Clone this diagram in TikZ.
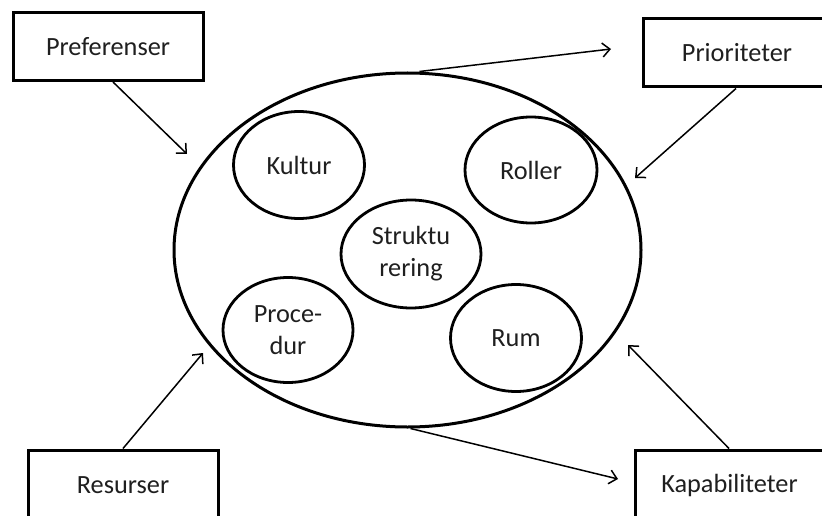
\documentclass[tikz,border=0pt]{standalone}
\usepackage{fontspec}
\setmainfont{Carlito}
\usetikzlibrary{shapes.geometric,arrows.meta,calc}
\begin{document}
\begin{tikzpicture}[x=1pt,y=-1pt,
  every node/.style={font=\fontsize{26.3}{32}\selectfont, text=black!88},
  boxnode/.style={draw, line width=3pt, rectangle, minimum width=190pt, minimum height=68pt, inner sep=0pt},
  bigell/.style={draw, line width=3pt, ellipse, minimum width=467pt, minimum height=354pt, inner sep=0pt},
  smallell/.style={draw, line width=2.8pt, ellipse, inner sep=0pt, align=center},
  arr/.style={line width=1.5pt, -{Straight Barb[length=7.5pt,width=14pt,line width=1.5pt]}}
]
\useasboundingbox (0,0) rectangle (822,516);
\clip (0,0) rectangle (822,516);
\fill[white] (0,0) rectangle (822,516);

\node[boxnode] (pref) at (108,46.5) {Preferenser};
\node[boxnode, minimum width=230pt] (prio) at (758,53) {Prioriteter\hspace*{42pt}};
\node[boxnode, minimum height=70pt] (res) at (123,485) {Resurser};
\node[boxnode, minimum width=230pt, minimum height=70pt] (kap) at (750,485) {Kapabiliteter\hspace*{41pt}};

\node[bigell] (big) at (407.5,250) {};

\node[smallell, minimum width=131pt, minimum height=107pt] (kultur) at (299,165) {Kultur};
\node[smallell, minimum width=132pt, minimum height=106pt] (roller) at (531,170) {Roller};
\node[smallell, minimum width=140pt, minimum height=108pt] (strukt) at (411,254) {Struktu\\rering};
\node[smallell, minimum width=130pt, minimum height=105pt] (proc) at (288,330) {Proce-\\dur};
\node[smallell, minimum width=131pt, minimum height=107pt] (rum) at (516,338) {Rum};

\coordinate (prefend) at (187,154);
\coordinate (prioend) at (635,178);
\coordinate (topend) at (611,49);
\coordinate (resend) at (203,353);
\coordinate (botend) at (618,479);
\coordinate (kapend) at (628,345);

\draw[arr] ($(pref.south)+(5,0)$) -- (prefend);
\draw[arr] ($(prio.south)+(-22,0)$) -- (prioend);
\draw[arr] ($(big.north)+(12,0)$) -- (topend);
\draw[arr] (res.north) -- (resend);
\draw[arr] ($(big.south)+(3,0)$) -- (botend);
\draw[arr] ($(kap.north)+(-21,0)$) -- (kapend);
\end{tikzpicture}
\end{document}
